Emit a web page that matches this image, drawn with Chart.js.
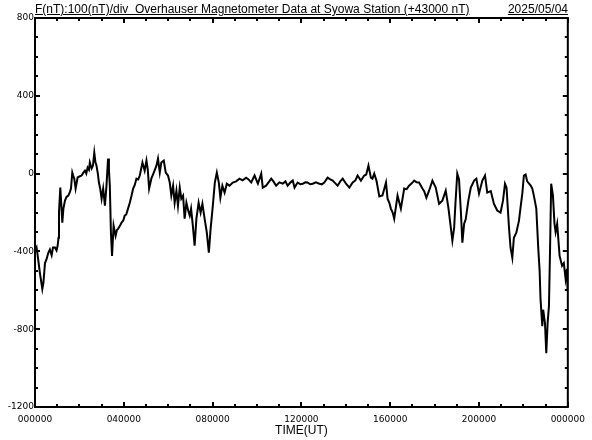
<!DOCTYPE html>
<html><head><meta charset="utf-8">
<script src="https://cdn.jsdelivr.net/npm/chart.js@4/dist/chart.umd.min.js"></script>
<style>
html,body{margin:0;padding:0;background:#fff;}
#wrap{position:relative;width:592px;height:440px;overflow:hidden;}
canvas{position:absolute;left:0;top:0;}
.t{position:absolute;font-family:"Liberation Sans",Arial,sans-serif;font-size:12px;line-height:13px;color:#000;text-decoration:underline;white-space:pre;}
</style></head><body>
<div id="wrap">
<canvas id="c" width="592" height="440"></canvas>
<div class="t" id="title" style="left:35px;top:3px;"></div>
<div class="t" id="date" style="right:24px;top:3px;"></div>
</div>
<script>
const titleText = "F(nT):100(nT)/div  Overhauser Magnetometer Data at Syowa Station (+43000 nT)";
const dateText = "2025/05/04";
const axisTitle = "TIME(UT)";
const xTickLabels = ["000000","040000","080000","120000","160000","200000","000000"];
const yTickValues = [800, 400, 0, -400, -800, -1200];
const yTickLabels = ["800","400","0","-400","-800","-1200"];

// time of day in hours (UT)
const timeHours = [
0.00,0.07,0.13,0.22,0.33,0.38,0.45,0.52,0.60,0.67,0.75,0.81,0.90,0.97,1.02,1.06,1.08,1.14,1.18,1.23,
1.28,1.35,1.42,1.50,1.57,1.62,1.68,1.72,1.77,1.83,1.92,2.00,2.10,2.18,2.25,2.31,2.37,2.43,2.47,2.55,
2.61,2.67,2.72,2.77,2.83,2.88,2.94,3.00,3.07,3.15,3.22,3.29,3.33,3.37,3.42,3.47,3.54,3.63,3.69,3.74,
3.82,3.90,3.98,4.04,4.11,4.19,4.27,4.35,4.42,4.49,4.57,4.65,4.72,4.84,4.94,5.02,5.08,5.14,5.24,5.35,
5.47,5.54,5.62,5.69,5.80,5.89,5.99,6.07,6.14,6.22,6.29,6.37,6.44,6.52,6.59,6.67,6.74,6.82,6.90,6.97,
7.03,7.11,7.19,7.27,7.37,7.46,7.54,7.64,7.74,7.83,7.91,8.01,8.10,8.19,8.28,8.35,8.44,8.54,8.64,8.76,
8.91,9.06,9.21,9.35,9.51,9.62,9.74,9.89,10.04,10.19,10.26,10.41,10.52,10.64,10.74,10.86,11.01,11.16,11.28,11.38,
11.51,11.61,11.69,11.83,11.96,12.06,12.18,12.28,12.40,12.51,12.65,12.81,12.92,13.03,13.18,13.30,13.41,13.53,13.63,13.75,
13.86,14.01,14.16,14.31,14.43,14.53,14.68,14.83,14.92,15.02,15.13,15.20,15.28,15.38,15.51,15.65,15.81,15.88,15.96,16.03,
16.11,16.18,16.33,16.48,16.63,16.74,16.85,16.97,17.08,17.19,17.30,17.45,17.53,17.63,17.75,17.90,18.05,18.20,18.35,18.50,
18.62,18.73,18.80,18.88,18.94,19.02,19.10,19.18,19.25,19.33,19.40,19.52,19.63,19.78,19.88,20.00,20.15,20.27,20.37,20.53,
20.67,20.82,20.97,21.08,21.17,21.24,21.35,21.42,21.50,21.57,21.68,21.80,21.87,21.95,22.02,22.10,22.17,22.32,22.40,22.47,
22.58,22.67,22.73,22.77,22.85,22.89,22.97,23.03,23.09,23.15,23.20,23.25,23.33,23.40,23.45,23.52,23.63,23.74,23.82,23.90,
23.96,23.99
];
// F - 43000 nT
const fValues = [
-397,-380,-430,-510,-593,-560,-460,-440,-407,-390,-420,-380,-380,-395,-370,-330,-200,-72,-150,-252,
-180,-139,-120,-113,-95,-77,5,-10,-26,-77,-20,-15,-10,5,15,0,31,20,57,26,
40,108,60,41,0,-46,-80,-129,-77,-165,-62,77,20,-62,-304,-423,-268,-320,-290,-284,
-270,-252,-240,-216,-210,-180,-150,-113,-77,-60,-26,-30,-10,57,15,67,20,-77,-26,5,
41,77,5,57,67,5,-10,-46,-113,-62,-150,-88,-165,-72,-129,-113,-232,-150,-190,-216,
-180,-268,-371,-232,-150,-201,-155,-232,-304,-407,-284,-165,-46,5,-46,-124,-62,-98,-52,-62,
-46,-40,-26,-35,-21,-30,-46,-10,-52,0,-72,-62,-45,-26,-40,-62,-45,-52,-40,-62,
-45,-36,-72,-46,-55,-52,-45,-46,-55,-52,-45,-52,-55,-46,-21,-30,-36,-50,-62,-40,
-26,-52,-72,-46,-35,-10,-36,-10,-5,41,-21,-26,0,-36,-118,-113,-46,-129,-150,-180,
-200,-232,-113,-180,-77,-80,-62,-50,-36,-45,-46,-77,-90,-124,-88,-36,-72,-155,-139,-88,
-175,-278,-345,-278,-150,0,-30,-190,-355,-258,-235,-139,-72,-36,-26,-103,-36,-10,-98,-90,
-155,-190,-201,-139,-52,-72,-278,-381,-433,-330,-304,-242,-175,-103,-10,-5,-40,-60,-77,-113,
-180,-387,-500,-644,-784,-700,-768,-923,-768,-680,-387,-52,-113,-258,-300,-258,-423,-474,-460,-541,
-490,-593
];

document.getElementById('title').textContent = titleText;
document.getElementById('date').textContent = dateText;

const frameTicks = {
  id: 'frameTicks',
  afterDraw(chart) {
    const {ctx, chartArea: a, scales: {x, y}} = chart;
    ctx.save();
    ctx.strokeStyle = '#000';
    ctx.lineWidth = 2;
    ctx.strokeRect(a.left, a.top, a.right - a.left, a.bottom - a.top);
    ctx.beginPath();
    for (let h = 0; h <= 24; h++) {
      const px = Math.round(x.getPixelForValue(h));
      const len = (h % 4 === 0) ? 5 : 3;
      ctx.moveTo(px, a.bottom); ctx.lineTo(px, a.bottom - len);
      ctx.moveTo(px, a.top); ctx.lineTo(px, a.top + len);
    }
    for (let v = -1200; v <= 800; v += 100) {
      const py = Math.round(y.getPixelForValue(v));
      const len = (v % 400 === 0) ? 5 : 3;
      ctx.moveTo(a.left, py); ctx.lineTo(a.left + len, py);
      ctx.moveTo(a.right, py); ctx.lineTo(a.right - len, py);
    }
    ctx.stroke();
    ctx.restore();
  }
};

new Chart(document.getElementById('c'), {
  type: 'line',
  data: {
    datasets: [{
      data: timeHours.map((t, i) => ({x: t, y: fValues[i]})),
      borderColor: '#000',
      borderWidth: 2,
      pointRadius: 0,
      tension: 0,
      fill: false
    }]
  },
  options: {
    responsive: false,
    animation: false,
    layout: {padding: {top: 18, right: 23, left: 0, bottom: 0}},
    plugins: {legend: {display: false}, tooltip: {enabled: false}},
    scales: {
      x: {
        type: 'linear', min: 0, max: 24,
        ticks: {stepSize: 4, autoSkip: false, maxRotation: 0, color: '#000', padding: 7,
          font: {family: 'DejaVu Sans', size: 9},
          callback: (v, i) => xTickLabels[i]},
        grid: {display: false, drawTicks: false},
        border: {display: false},
        title: {display: true, text: axisTitle, color: '#000',
          font: {family: 'Liberation Sans', size: 12}, padding: {top: 0, bottom: 2}},
        afterFit: s => { s.height = 33; }
      },
      y: {
        min: -1200, max: 800,
        ticks: {stepSize: 400, color: '#000', padding: 1,
          font: {family: 'DejaVu Sans', size: 9},
          callback: v => { const k = yTickValues.indexOf(v); return k >= 0 ? yTickLabels[k] : ''; }},
        grid: {display: false, drawTicks: false},
        border: {display: false},
        afterFit: s => { s.width = 35; }
      }
    }
  },
  plugins: [frameTicks]
});
</script>
</body></html>
